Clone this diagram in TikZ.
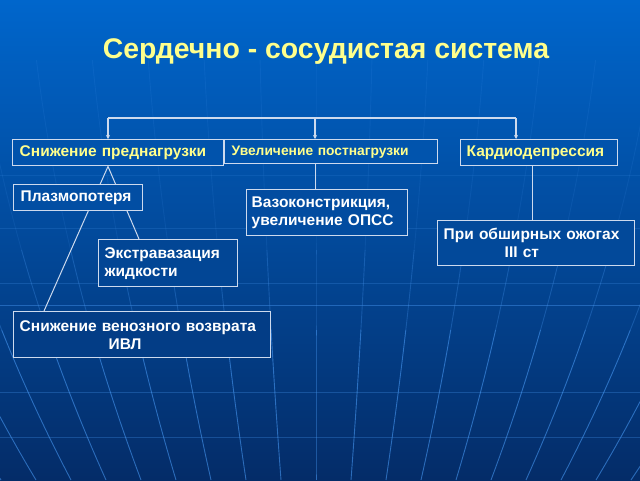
\documentclass[tikz,border=0pt]{standalone}
\usepackage{fontspec}
\setmainfont{Liberation Sans}
\usetikzlibrary{arrows.meta,calc}
\pgfdeclarelayer{bgl}
\pgfdeclarelayer{lines}
\pgfsetlayers{bgl,lines,main}
\definecolor{bgtop}{RGB}{0,102,204}
\definecolor{bgbot}{RGB}{4,44,104}
\definecolor{gridc}{RGB}{70,150,240}
\definecolor{ylw}{RGB}{255,255,140}
\definecolor{edgec}{RGB}{205,218,238}
\tikzset{
  box/.style={draw=edgec, line width=1.4pt, anchor=north west, inner xsep=7pt, inner ysep=0pt,
    font=\bfseries\fontsize{15.5}{18}\selectfont, text=white, align=left},
  ybox/.style={box, text=ylw},
  conn/.style={draw=edgec, line width=1.6pt},
  arr/.style={conn, -{Stealth[length=4pt,width=4pt]}},
  thin/.style={draw=edgec, line width=1pt},
  gline/.style={draw=gridc, line width=0.9pt}
}
\begin{document}
\begin{tikzpicture}[x=1pt,y=-1pt]
\useasboundingbox (0,0) rectangle (640,480);
\begin{pgfonlayer}{bgl}
  \shade[top color=bgtop, bottom color=bgbot] (0,0) rectangle (640,480);
  % horizontal grid lines
  \foreach \yy/\op in {175/0.15,228/0.2,283/0.25,305/0.45,392/0.3,437/0.3}
    \draw[gline, opacity=\op] (0,\yy) -- (640,\yy);
  % meridians
  \foreach \k in {-9,...,9}{
    \draw[gline, opacity=0.12] plot[domain=60:250, samples=15, variable=\t]
      ({316+\k*(35+7.5*((480-\t)/100)-0.6*((480-\t)/100)*((480-\t)/100))}, \t);
    \draw[gline, opacity=0.3] plot[domain=250:330, samples=10, variable=\t]
      ({316+\k*(35+7.5*((480-\t)/100)-0.6*((480-\t)/100)*((480-\t)/100))}, \t);
    \draw[gline, opacity=0.6] plot[domain=330:480, samples=15, variable=\t]
      ({316+\k*(35+7.5*((480-\t)/100)-0.6*((480-\t)/100)*((480-\t)/100))}, \t);
  }
\end{pgfonlayer}

\node[font=\bfseries\fontsize{28.4}{32}\selectfont, text=ylw] (T) at (326,52) {Сердечно - сосудистая система};

\node[ybox, fill=bgbot!32!bgtop, minimum width=211pt, minimum height=26pt, text width=197pt] (A) at (12,139) {Снижение преднагрузки};
\node[ybox, fill=bgbot!31!bgtop, minimum width=213pt, minimum height=24pt, text width=199pt,
      font=\bfseries\fontsize{13.8}{16}\selectfont] (B) at (224,139) {Увеличение постнагрузки};
\node[ybox, fill=bgbot!32!bgtop, minimum width=157pt, minimum height=26pt, text width=145pt, inner xsep=6pt] (C) at (460,139) {Кардиодепрессия};
\node[box, fill=bgbot!41!bgtop, minimum width=129pt, minimum height=26pt, text width=115pt] (D) at (13,184) {Плазмопотеря};
\node[box, fill=bgbot!44!bgtop, minimum width=161pt, minimum height=46pt, text width=151pt, inner xsep=5pt] (E) at (246,189) {Вазоконстрикция,\\увеличение ОПСС};
\node[box, fill=bgbot!55!bgtop, minimum width=139pt, minimum height=47pt, text width=127pt, inner xsep=6pt] (F) at (98,239) {Экстравазация\\жидкости};
\node[box, fill=bgbot!50!bgtop, minimum width=197pt, minimum height=45pt, text width=185pt, inner xsep=6pt] (G) at (437,220) {При обширных ожогах\\\hspace*{61pt}III ст};
\node[box, fill=bgbot!70!bgtop, minimum width=257pt, minimum height=46pt, text width=245pt, inner xsep=6pt] (H) at (13,311) {Снижение венозного возврата\\\hspace*{89pt}ИВЛ};

\coordinate (busL) at (108,118);
\coordinate (busM) at (315,118);
\coordinate (busR) at (516,118);
\coordinate (cdn) at (532,0);

\begin{pgfonlayer}{lines}
  \draw[conn] (busL) -- (busR);
  \draw[arr] (busL) -- (busL |- A.north);
  \draw[arr] (busM) -- (busM |- B.north);
  \draw[arr] (busR) -- (busR |- C.north);
  \draw[thin] (busL |- A.south) -- ($(H.north west)+(31,0)$);
  \draw[thin] (busL |- A.south) -- ($(F.north west)+(41,0)$);
  \draw[thin] (busM |- B.south) -- (busM |- E.north);
  \draw[thin] (cdn |- C.south) -- (cdn |- G.north);
\end{pgfonlayer}
\end{tikzpicture}
\end{document}
